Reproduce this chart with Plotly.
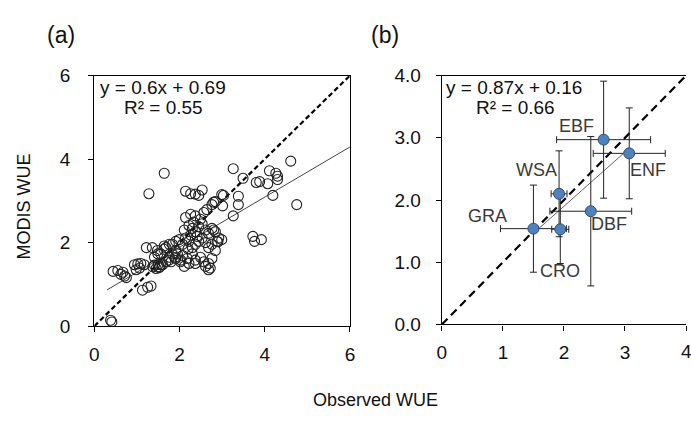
import plotly.graph_objects as go

W, H = 691, 421

# ---------------- Panel (a) data: site-level observed vs MODIS WUE ----------------
obs_a = [0.38, 0.41, 0.44, 0.55, 0.62, 0.67, 0.71, 0.75, 0.94, 0.98,
         1.02, 1.06, 1.09, 1.17, 1.13, 1.25, 1.33, 1.28, 1.22, 1.36,
         1.37, 1.41, 1.45, 1.50, 1.53, 1.56, 1.41, 1.49, 1.48, 1.56,
         1.63, 1.64, 1.76, 1.64, 1.75, 1.80, 1.83, 1.90, 1.91, 1.95,
         1.99, 2.02, 1.60, 1.68, 1.76, 1.68, 1.83, 1.91, 1.91, 2.03,
         2.07, 2.07, 2.11, 2.14, 2.11, 2.14, 2.14, 2.18, 2.22, 2.22,
         2.22, 2.26, 2.26, 2.30, 2.30, 2.30, 2.37, 2.37, 2.37, 2.37,
         2.37, 2.37, 2.45, 2.45, 2.45, 2.49, 2.49, 2.53, 2.53, 2.53,
         2.57, 2.57, 2.61, 2.61, 2.61, 2.64, 2.68, 2.68, 2.68, 2.68,
         2.72, 2.76, 2.76, 2.76, 2.76, 2.80, 2.84, 2.84, 2.84, 2.88,
         2.92, 2.80, 3.01, 2.99, 2.99, 2.90, 3.03, 3.26, 3.26, 3.38,
         3.38, 3.49, 3.72, 3.76, 3.92, 3.80, 3.88, 4.07, 4.11, 4.19,
         4.26, 4.30, 4.30, 4.61, 4.75, 2.26, 2.41, 2.33, 2.20, 1.52]
modis_a = [0.14, 0.10, 1.31, 1.33, 1.24, 1.29, 1.20, 1.16, 1.47, 1.35,
           1.49, 1.39, 1.50, 1.47, 0.86, 0.93, 0.96, 3.17, 1.88, 1.88,
           1.42, 1.46, 1.38, 1.48, 1.42, 1.47, 1.65, 1.73, 1.81, 1.73,
           1.84, 1.92, 1.96, 3.66, 1.58, 1.54, 1.73, 1.65, 1.81, 1.73,
           2.07, 1.54, 1.47, 1.54, 1.65, 1.88, 1.96, 2.03, 1.62, 1.58,
           1.96, 1.69, 1.43, 2.11, 2.30, 2.60, 3.23, 1.62, 2.03, 2.41,
           1.50, 2.68, 3.17, 2.34, 1.88, 1.73, 2.26, 1.96, 1.58, 1.50,
           2.64, 3.16, 2.38, 2.03, 3.13, 2.56, 1.65, 2.45, 2.11, 3.26,
           2.72, 1.54, 2.30, 2.00, 1.43, 2.79, 2.22, 1.88, 1.50, 1.35,
           1.39, 2.91, 2.34, 1.96, 1.62, 2.30, 2.26, 2.98, 1.81, 2.03,
           2.11, 2.97, 2.88, 3.15, 2.07, 2.02, 3.13, 2.64, 3.77, 3.11,
           2.91, 3.54, 2.15, 2.03, 2.07, 3.44, 3.46, 3.41, 3.72, 3.13,
           3.66, 3.59, 3.51, 3.95, 2.91, 2.18, 2.15, 2.49, 1.85, 1.40]
slope_a, icpt_a = 0.6, 0.69
fit_x_a = [0.3, 6.0]
one2one_a = [0, 6]

# ---------------- Panel (b) data: PFT means ----------------
pft = ["GRA", "CRO", "WSA", "DBF", "EBF", "ENF"]
obs_b = [1.50, 1.94, 1.92, 2.44, 2.65, 3.07]
modis_b = [1.54, 1.53, 2.10, 1.82, 2.97, 2.75]
obs_err = [0.54, 0.14, 0.13, 0.67, 0.77, 0.59]
modis_err = [0.70, 0.55, 0.69, 1.20, 0.94, 0.73]
slope_b, icpt_b = 0.87, 0.16
fit_x_b = [1.5, 3.07]
one2one_b = [0, 4]

FONT = "Arial, Liberation Sans, sans-serif"

fig = go.Figure()

# Panel (a)
fig.add_trace(go.Scatter(x=one2one_a, y=one2one_a, mode="lines",
                         line=dict(color="black", width=2.2, dash="5px,3px"),
                         xaxis="x", yaxis="y", showlegend=False, hoverinfo="skip"))
fig.add_trace(go.Scatter(x=fit_x_a, y=[slope_a * v + icpt_a for v in fit_x_a], mode="lines",
                         line=dict(color="#444444", width=1),
                         xaxis="x", yaxis="y", showlegend=False, hoverinfo="skip"))
fig.add_trace(go.Scatter(x=obs_a, y=modis_a, mode="markers",
                         marker=dict(symbol="circle-open", size=10, color="#222222",
                                     line=dict(width=1.1)),
                         xaxis="x", yaxis="y", showlegend=False))

# Panel (b)
fig.add_trace(go.Scatter(x=one2one_b, y=one2one_b, mode="lines",
                         line=dict(color="black", width=2.2, dash="8px,5px"),
                         xaxis="x2", yaxis="y2", showlegend=False, hoverinfo="skip"))
fig.add_trace(go.Scatter(x=fit_x_b, y=[slope_b * v + icpt_b for v in fit_x_b], mode="lines",
                         line=dict(color="#666666", width=1),
                         xaxis="x2", yaxis="y2", showlegend=False, hoverinfo="skip"))
fig.add_trace(go.Scatter(x=obs_b, y=modis_b, mode="markers",
                         marker=dict(symbol="circle", size=11, color="#4F81BD",
                                     line=dict(color="#2F4F7A", width=1)),
                         error_x=dict(type="data", array=obs_err, color="#222222",
                                      thickness=1, width=3.5),
                         error_y=dict(type="data", array=modis_err, color="#222222",
                                      thickness=1, width=3.5),
                         xaxis="x2", yaxis="y2", showlegend=False))

def px(x):
    return x / W

def py(y):
    return 1 - y / H

TICK_SIZE = 19
axis_common = dict(showgrid=False, zeroline=False, showline=True, linecolor="black",
                   linewidth=1.3, ticks="outside", ticklen=5, tickcolor="black",
                   tickfont=dict(family=FONT, size=TICK_SIZE, color="#111111"))

fig.update_layout(
    width=W, height=H,
    margin=dict(l=0, r=0, t=0, b=0),
    paper_bgcolor="white", plot_bgcolor="white",
    xaxis=dict(domain=[px(90.7), px(350)], range=[0, 6], tickvals=[0, 2, 4, 6],
               mirror=True, anchor="y", ticklabelstandoff=6, **axis_common),
    yaxis=dict(domain=[py(332.7), py(69)], range=[0, 6], tickvals=[0, 2, 4, 6],
               mirror=True, anchor="x", ticklabelstandoff=14, **axis_common),
    xaxis2=dict(domain=[px(443.3), 1.0], range=[0, 4], tickvals=[0, 1, 2, 3, 4],
                mirror=True, anchor="y2", ticklabelstandoff=6, **axis_common),
    yaxis2=dict(domain=[py(331), py(69)], range=[0, 4], tickvals=[0, 1, 2, 3, 4],
                tickformat=".1f", mirror=False, anchor="x2", ticklabelstandoff=11,
                **axis_common),
)

ann = []
def text(x, y, s, size=19, color="#111111", xanchor="center", angle=0):
    ann.append(dict(x=px(x), y=py(y), xref="paper", yref="paper", text=s,
                    showarrow=False, xanchor=xanchor, yanchor="middle", textangle=angle,
                    font=dict(family=FONT, size=size, color=color)))

text(57, 26, "(a)", size=23)
text(386, 26, "(b)", size=23)
text(94, 82, f"y = {slope_a}x + {icpt_a}", xanchor="left")
text(119, 103, "R² = 0.55", xanchor="left")
text(445, 82, f"y = {slope_b}x + {icpt_b}", xanchor="left")
text(476, 103, "R² = 0.66", xanchor="left")
text(376, 410, "Observed WUE", size=18)
text(19, 207, "MODIS WUE", size=18, angle=-90)
# the rightmost x tick label of panel (b) sits on the page edge and is cut off there
text(691, px(0) + 359, "4", size=TICK_SIZE)

# PFT labels in panel (b)
label_pos = {"GRA": (490, 217), "CRO": (563, 275), "WSA": (539, 168),
             "DBF": (613, 225), "EBF": (580, 122), "ENF": (652, 168)}
for name in pft:
    lx, ly = label_pos[name]
    text(lx, ly, name, size=18, color="#3a3a3a")

fig.update_layout(annotations=ann)

fig.write_html("out.html")
